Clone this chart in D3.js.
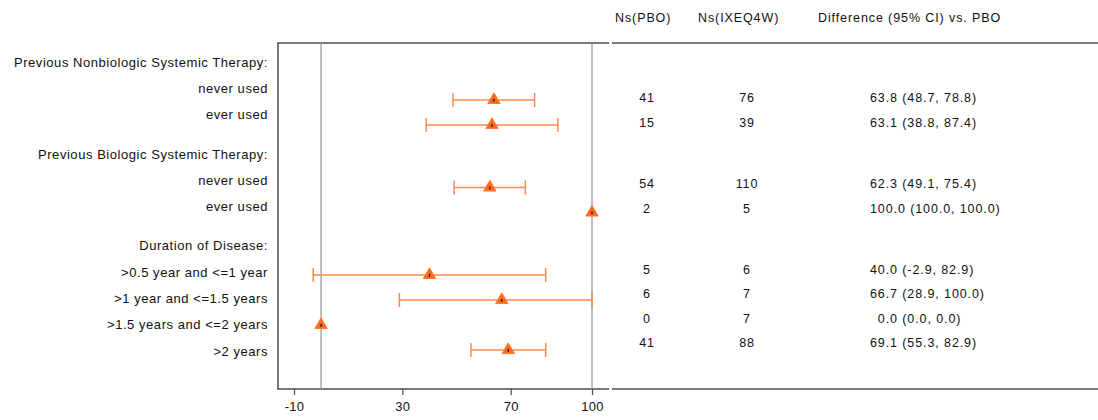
<!DOCTYPE html>
<html>
<head>
<meta charset="utf-8">
<script src="https://cdn.jsdelivr.net/npm/d3@7"></script>
<style>
  html, body { margin: 0; padding: 0; background: #fff; }
  svg { display: block; }
  text { font-family: "Liberation Sans", Arial, sans-serif; fill: #111; }
</style>
</head>
<body>
<div id="chart"></div>
<script>
// ---------------- data ----------------
const groups = [
  "Previous Nonbiologic Systemic Therapy:",
  "Previous Biologic Systemic Therapy:",
  "Duration of Disease:"
];
const subgroups = [
  "never used", "ever used",
  "never used", "ever used",
  ">0.5 year and <=1 year", ">1 year and <=1.5 years",
  ">1.5 years and <=2 years", ">2 years"
];
const subgroupGroup = [0, 0, 1, 1, 2, 2, 2, 2];
const nPBO   = [41, 15, 54, 2, 5, 6, 0, 41];
const nIXE   = [76, 39, 110, 5, 6, 7, 7, 88];
const diff   = [63.8, 63.1, 62.3, 100.0, 40.0, 66.7, 0.0, 69.1];
const lower  = [48.7, 38.8, 49.1, 100.0, -2.9, 28.9, 0.0, 55.3];
const upper  = [78.8, 87.4, 75.4, 100.0, 82.9, 100.0, 0.0, 82.9];
const xTicks = [-10, 30, 70, 100];
const refLines = [0, 100];
const colHeaders = ["Ns(PBO)", "Ns(IXEQ4W)", "Difference (95% CI) vs. PBO"];

// ---------------- layout ----------------
const W = 1098, H = 420;
const svg = d3.select("#chart").append("svg").attr("width", W).attr("height", H);

const plotLeft = 278, plotRight = 609, plotTop = 43, plotBottom = 389;

// row units: group header then items; extra half unit between groups
const rows = [];
let u = 0;
groups.forEach((g, gi) => {
  if (gi > 0) u += 1.5;
  rows.push({ type: "header", label: g, u: u });
  subgroups.forEach((s, i) => {
    if (subgroupGroup[i] === gi) {
      u += 1;
      rows.push({ type: "item", label: s, u: u, i: i });
    }
  });
});
const uMax = u;

const x = d3.scaleLinear().domain([-10, 100]).range([294, 592]);
const yLabel = d3.scaleLinear().domain([0, uMax]).range([62, 351]);
const yMark  = d3.scaleLinear().domain([0, uMax]).range([75, 350]);
const yTable = d3.scaleLinear().domain([0, uMax]).range([73.5, 343]);

const items = rows.filter(r => r.type === "item");
const lineColor = "#4d4d4d";
const barColor = "#ff8a4f";
const markColor = "#ff6a1f";
const fmt1 = v => v.toFixed(1);   // keeps ASCII hyphen for negatives

// ---------------- frame lines ----------------
svg.append("line").attr("x1", plotLeft).attr("x2", plotLeft).attr("y1", plotTop).attr("y2", plotBottom)
  .attr("stroke", lineColor).attr("stroke-width", 1.5);
[plotTop, plotBottom].forEach(yy => {
  svg.append("line").attr("x1", plotLeft - 0.75).attr("x2", plotRight).attr("y1", yy).attr("y2", yy)
    .attr("stroke", lineColor).attr("stroke-width", 1.5);
  svg.append("line").attr("x1", plotRight + 3).attr("x2", W).attr("y1", yy).attr("y2", yy)
    .attr("stroke", lineColor).attr("stroke-width", 1.5);
});

// reference lines
svg.selectAll(".ref").data(refLines).enter().append("line")
  .attr("x1", d => x(d)).attr("x2", d => x(d))
  .attr("y1", plotTop).attr("y2", plotBottom)
  .attr("stroke", "#9a9a9a").attr("stroke-width", 1.3);

// x axis
const axis = svg.append("g").attr("transform", `translate(0,${plotBottom})`)
  .call(d3.axisBottom(x).tickValues(xTicks).tickSize(6).tickPadding(7).tickFormat(d => String(d)));
axis.select(".domain").remove();
axis.selectAll(".tick line").attr("stroke", lineColor).attr("stroke-width", 1.2);
axis.selectAll(".tick text").attr("font-size", "13px").attr("letter-spacing", "0.3px")
  .style("font-family", '"Liberation Sans", Arial, sans-serif').attr("fill", "#111");

// ---------------- labels ----------------
svg.selectAll(".lab").data(rows).enter().append("text")
  .attr("x", 268).attr("y", d => yLabel(d.u)).attr("dy", "0.35em")
  .attr("text-anchor", "end").attr("font-size", "13px").attr("letter-spacing", "0.55px")
  .text(d => d.label);

// ---------------- error bars & markers ----------------
const eb = svg.selectAll(".eb").data(items.filter(r => upper[r.i] > lower[r.i])).enter().append("g");
eb.append("line")
  .attr("x1", r => x(lower[r.i])).attr("x2", r => x(upper[r.i]))
  .attr("y1", r => yMark(r.u)).attr("y2", r => yMark(r.u))
  .attr("stroke", barColor).attr("stroke-width", 1.5);
eb.append("line")
  .attr("x1", r => x(lower[r.i])).attr("x2", r => x(lower[r.i]))
  .attr("y1", r => yMark(r.u) - 7).attr("y2", r => yMark(r.u) + 7)
  .attr("stroke", barColor).attr("stroke-width", 1.5);
eb.append("line")
  .attr("x1", r => x(upper[r.i])).attr("x2", r => x(upper[r.i]))
  .attr("y1", r => yMark(r.u) - 7).attr("y2", r => yMark(r.u) + 7)
  .attr("stroke", barColor).attr("stroke-width", 1.5);

const tri = d3.symbol().type(d3.symbolTriangle).size(66);
const mk = svg.selectAll(".mk").data(items).enter().append("g")
  .attr("transform", r => `translate(${x(diff[r.i])},${yMark(r.u)})`);
mk.append("path").attr("d", tri).attr("fill", markColor)
  .attr("stroke", "#ff7a35").attr("stroke-width", 1);
mk.append("rect").attr("x", -0.6).attr("y", -1.2).attr("width", 1.2).attr("height", 3).attr("fill", "#111");

// ---------------- table ----------------
const headerX = [615, 698, 818];
svg.selectAll(".ch").data(colHeaders).enter().append("text")
  .attr("x", (d, i) => headerX[i]).attr("y", 18).attr("dy", "0.35em")
  .attr("font-size", "12.5px").attr("letter-spacing", "0.9px")
  .text(d => d);

svg.selectAll(".n1").data(items).enter().append("text")
  .attr("x", 647).attr("y", r => yTable(r.u)).attr("dy", "0.35em")
  .attr("text-anchor", "middle").attr("font-size", "12.5px").attr("letter-spacing", "0.9px")
  .text(r => nPBO[r.i]);
svg.selectAll(".n2").data(items).enter().append("text")
  .attr("x", 747).attr("y", r => yTable(r.u)).attr("dy", "0.35em")
  .attr("text-anchor", "middle").attr("font-size", "12.5px").attr("letter-spacing", "0.9px")
  .text(r => nIXE[r.i]);
svg.selectAll(".df").data(items).enter().append("text")
  .attr("x", 870).attr("y", r => yTable(r.u)).attr("dy", "0.35em")
  .attr("font-size", "12.5px").attr("letter-spacing", "0.9px")
  .text(r => (Math.abs(diff[r.i]) < 10 ? "\u2007" : "") +
    `${fmt1(diff[r.i])} (${fmt1(lower[r.i])}, ${fmt1(upper[r.i])})`);
</script>
</body>
</html>
